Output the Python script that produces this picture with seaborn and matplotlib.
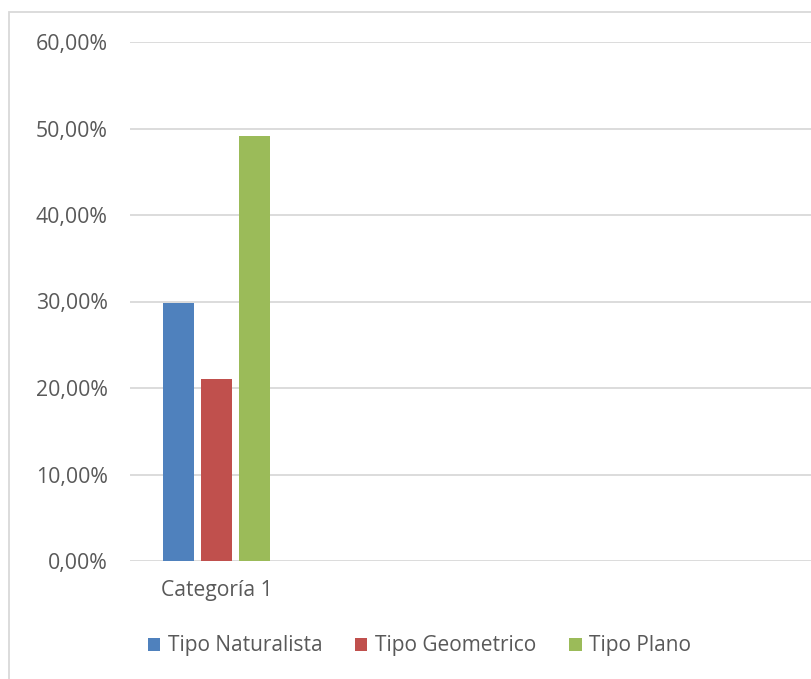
import matplotlib
matplotlib.use("Agg")
import matplotlib.pyplot as plt
import seaborn as sns
import pandas as pd
from matplotlib.patches import Rectangle, Patch
from matplotlib.ticker import FuncFormatter

categories = ["Categoría 1"]
series = ["Tipo Naturalista", "Tipo Geometrico", "Tipo Plano"]
values = [0.298, 0.210, 0.491]
colors = ["#4f81bd", "#c0504d", "#9bbb59"]
yticks = [0.0, 0.1, 0.2, 0.3, 0.4, 0.5, 0.6]

df = pd.DataFrame({"cat": categories * len(series), "serie": series, "valor": values})

sns.set_theme(style="white")
plt.rcParams['font.family'] = ['Open Sans', 'DejaVu Sans']

W, H = 811, 679
fig = plt.figure(figsize=(W / 100, H / 100), dpi=100)
ax = fig.add_axes([130 / W, (H - 561) / H, (W - 130) / W, (561 - 42) / H])

sns.barplot(data=df, x="cat", y="valor", hue="serie", hue_order=series,
            palette=colors, width=0.659, gap=0.184, ax=ax, legend=False,
            saturation=1, errorbar=None, linewidth=0)

ppu = (216.5 - 130) / 0.5
ax.set_xlim(-0.5, -0.5 + (W - 130) / ppu)
ax.set_ylim(0, 0.6)
ax.set_yticks(yticks)
ax.yaxis.set_major_formatter(FuncFormatter(lambda v, p: f"{v*100:.2f}%".replace(".", ",")))
ax.grid(axis="y", color="#d9d9d9", linewidth=1.3)
ax.set_axisbelow(True)
for s in ax.spines.values():
    s.set_visible(False)
ax.tick_params(axis="y", length=0, pad=16, labelsize=15.3, labelcolor="#595959")
ax.tick_params(axis="x", length=0, pad=14, labelsize=15.2, labelcolor="#595959")
ax.set_xlabel("")
ax.set_ylabel("")

fig.patches.append(Rectangle((9 / W, -0.1), 1.2, (H - 12) / H + 0.1, transform=fig.transFigure,
                             fill=False, edgecolor="#d9d9d9", linewidth=1.3, zorder=0))

handles = [Patch(facecolor=c, edgecolor="none") for c in colors]
fig.legend(handles, series, loc="center left", bbox_to_anchor=(129 / W, (H - 646) / H),
           ncol=3, frameon=False, fontsize=15, labelcolor="#595959",
           handlelength=0.58, handleheight=0.58, handletextpad=0.38, columnspacing=1.58)

fig.savefig("out.png", dpi=100)
